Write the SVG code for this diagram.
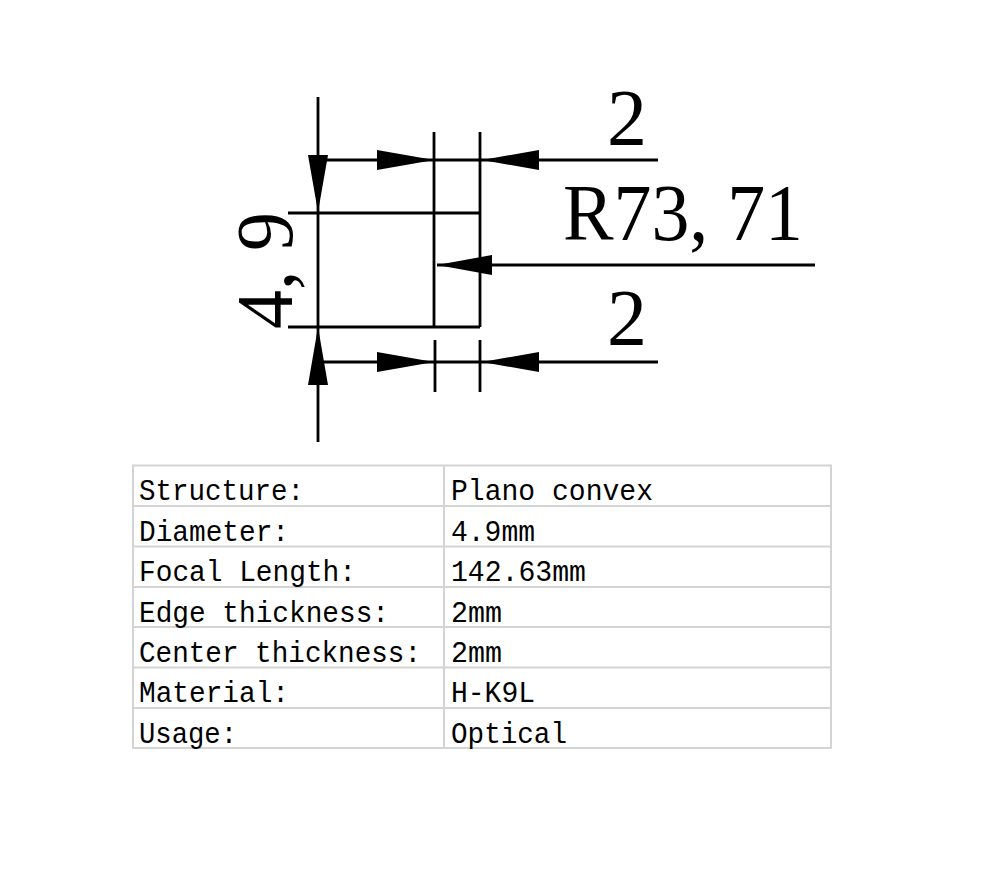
<svg xmlns="http://www.w3.org/2000/svg" width="988" height="878" viewBox="0 0 988 878">
<style>
.ln{stroke:#000;stroke-width:2.8;fill:none}
.ah{fill:#000;stroke:none}
.dim{font-family:"Liberation Serif",serif;font-size:80px;fill:#000}
.tb{stroke:#d4d4d4;stroke-width:2;fill:none}
.tt{font-family:"Liberation Mono",monospace;font-size:29px;fill:#000}
</style>
<rect width="988" height="878" fill="#fff"/>
<g id="lens">
<path class="ln" d="M288 213H480M288 327H480M434 132V327M480 132V327"/>
</g>
<g id="connectors">
<path class="ln" d="M318 97V442"/>
<path class="ln" d="M318 160H658"/>
<path class="ln" d="M318 362H658M435 340V392M480 340V392"/>
<path class="ln" d="M437 265H815"/>
<polygon class="ah" points="318,212 308,155 328,155"/>
<polygon class="ah" points="318,327 308,385 328,385"/>
<polygon class="ah" points="434,160 377,150 377,170"/>
<polygon class="ah" points="482,160 539,150 539,170"/>
<polygon class="ah" points="434,362 377,352 377,372"/>
<polygon class="ah" points="482,362 539,352 539,372"/>
<polygon class="ah" points="437,265 492,255 492,275"/>
</g>
<g id="labels">
<text class="dim" x="627" y="145" text-anchor="middle">2</text>
<text class="dim" x="627" y="345" text-anchor="middle">2</text>
<text class="dim" x="563" y="240" textLength="240" lengthAdjust="spacingAndGlyphs">R73, 71</text>
<text class="dim" transform="translate(292 329) rotate(-90)" textLength="117" lengthAdjust="spacingAndGlyphs">4, 9</text>
</g>
<g id="table">
<rect class="tb" x="133" y="465.5" width="698" height="282.5"/>
<path class="tb" d="M444 465.5V748M133 506H831M133 546.5H831M133 587H831M133 627H831M133 667.5H831M133 708H831"/>
<g class="tt">
<text x="139" y="500" textLength="165" lengthAdjust="spacingAndGlyphs">Structure:</text>
<text x="139" y="540.5" textLength="150" lengthAdjust="spacingAndGlyphs">Diameter:</text>
<text x="139" y="581" textLength="217" lengthAdjust="spacingAndGlyphs">Focal Length:</text>
<text x="139" y="621.5" textLength="250" lengthAdjust="spacingAndGlyphs">Edge thickness:</text>
<text x="139" y="662" textLength="282" lengthAdjust="spacingAndGlyphs">Center thickness:</text>
<text x="139" y="702" textLength="150" lengthAdjust="spacingAndGlyphs">Material:</text>
<text x="139" y="742.5" textLength="98" lengthAdjust="spacingAndGlyphs">Usage:</text>
<text x="451" y="500" textLength="202" lengthAdjust="spacingAndGlyphs">Plano convex</text>
<text x="451" y="540.5" textLength="84" lengthAdjust="spacingAndGlyphs">4.9mm</text>
<text x="451" y="581" textLength="135" lengthAdjust="spacingAndGlyphs">142.63mm</text>
<text x="451" y="621.5" textLength="51" lengthAdjust="spacingAndGlyphs">2mm</text>
<text x="451" y="662" textLength="51" lengthAdjust="spacingAndGlyphs">2mm</text>
<text x="451" y="702" textLength="84" lengthAdjust="spacingAndGlyphs">H-K9L</text>
<text x="451" y="742.5" textLength="116" lengthAdjust="spacingAndGlyphs">Optical</text>
</g>
</g>
</svg>
